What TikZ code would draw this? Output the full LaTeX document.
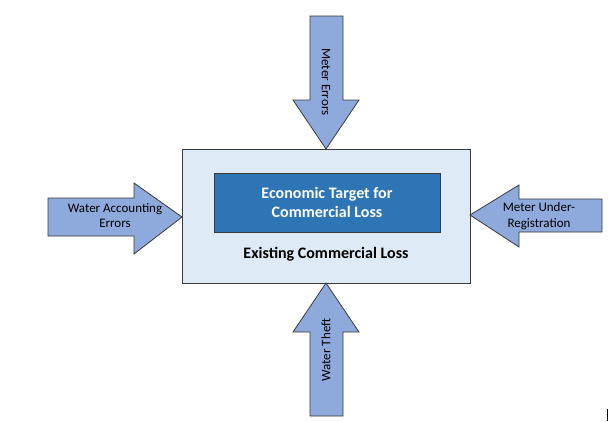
\documentclass[tikz,border=0pt]{standalone}
\usepackage{fontspec}
\setmainfont{Carlito}
\definecolor{arrowfill}{HTML}{8EA9DB}
\definecolor{outerfill}{HTML}{DEEAF6}
\definecolor{innerfill}{HTML}{2E75B6}
\definecolor{edge}{HTML}{3A3A3A}
\tikzset{
  bigarrow/.style={fill=arrowfill,draw=edge,line width=0.8pt,line join=miter},
  arrowtext/.style={font=\fontsize{13}{15.5}\selectfont,align=center,inner sep=0pt},
}
\begin{document}
\begin{tikzpicture}[x=1pt,y=-1pt]
\useasboundingbox (0,0) rectangle (613,421);
% outer box
\node[draw=edge,fill=outerfill,line width=0.8pt,minimum width=288pt,minimum height=134pt,inner sep=0pt] (outer) at (326,216) {};
\node[draw=edge,fill=innerfill,line width=0.8pt,minimum width=226pt,minimum height=59pt,inner sep=0pt,
  text=white,font=\bfseries\fontsize{16}{19}\selectfont,align=center] (inner) at (327,202.5) {Economic Target for\\Commercial Loss};
\node[font=\bfseries\fontsize{16}{18}\selectfont,inner sep=0pt] (existing) at (326,254) {Existing Commercial Loss};
% top arrow
\draw[bigarrow] (310,16) -- (343,16) -- (343,100) -- (359,100) -- (326,149) -- (293,100) -- (310,100) -- cycle;
\node[arrowtext,rotate=-90] (metererr) at (326,82) {Meter Errors};
% bottom arrow
\draw[bigarrow] (310,416) -- (343,416) -- (343,332) -- (359,332) -- (326,283) -- (293,332) -- (310,332) -- cycle;
\node[arrowtext,rotate=90] (theft) at (326,350) {Water Theft};
% left arrow
\draw[bigarrow] (48,198) -- (134,198) -- (134,183) -- (182,217) -- (134,254) -- (134,236) -- (48,236) -- cycle;
\node[arrowtext] (accounting) at (115,215.5) {Water Accounting\\Errors};
% right arrow
\draw[bigarrow] (602,199) -- (519,199) -- (519,185) -- (470,215) -- (519,247) -- (519,232) -- (602,232) -- cycle;
\node[arrowtext] (under) at (539,216) {Meter Under-\\Registration};
% stray mark
\coordinate (m1) at (607,409);
\coordinate (m2) at (607,421);
\draw[line width=0.8pt] (m1) -- (m2);
\end{tikzpicture}
\end{document}
